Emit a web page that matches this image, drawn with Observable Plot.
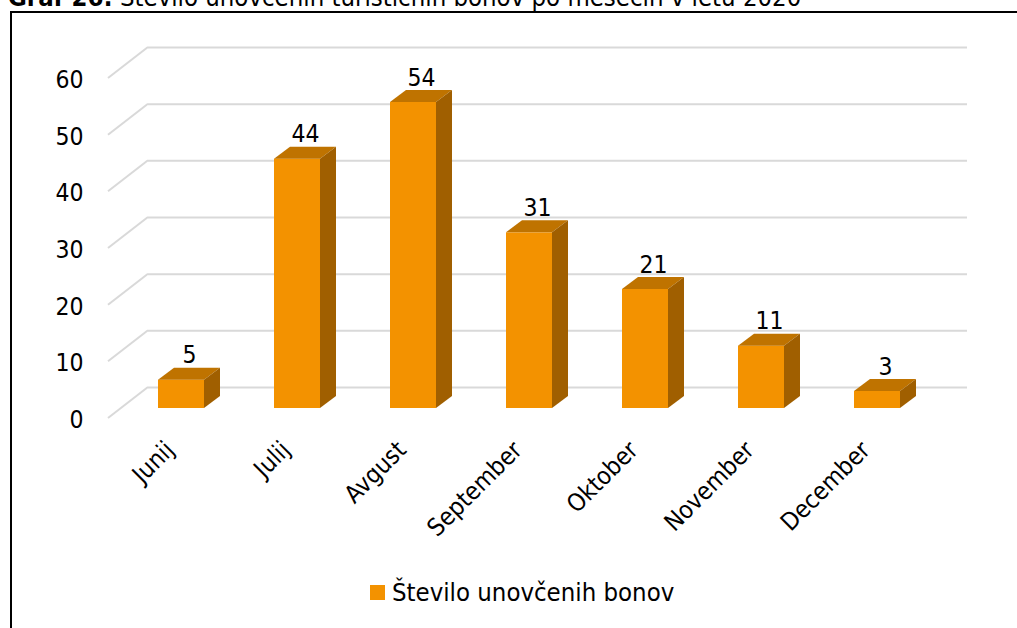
<!DOCTYPE html>
<html><head><meta charset="utf-8">
<script src="https://cdn.jsdelivr.net/npm/d3@7"></script>
<script src="https://cdn.jsdelivr.net/npm/@observablehq/plot@0.6"></script>
<style>
body{margin:0;background:#fff;}
#wrap{position:relative;width:1017px;height:628px;overflow:hidden;font-family:"DejaVu Sans Condensed","DejaVu Sans",sans-serif;font-stretch:condensed;color:#000;}
#title{position:absolute;left:8px;top:-15.5px;font-size:25.5px;line-height:1;white-space:nowrap;}
#box{position:absolute;left:10px;top:11px;width:1100px;height:700px;border:2px solid #000;}
#legend{position:absolute;left:370px;top:580px;font-size:25.5px;line-height:1;white-space:nowrap;display:flex;align-items:center;}
#legend .sw{display:inline-block;width:15px;height:15px;margin-right:7px;}
#chart{position:absolute;left:0;top:0;}
</style></head><body><div id="wrap">
<div id="box"></div>
<div id="title"></div>
<div id="chart"></div>
<div id="legend"></div>
</div>
<script>
const months = ["Junij","Julij","Avgust","September","Oktober","November","December"];
const counts = [5,44,54,31,21,11,3];
const yTicks = [0,10,20,30,40,50,60];
const seriesName = "Število unovčenih bonov";
const titleBold = "Graf 26:";
const titleRest = " Število unovčenih turističnih bonov po mesecih v letu 2020";

const data = months.map((m, i) => ({month: m, value: counts[i]}));

const FRONT = "#f39200", TOP = "#bf7300", SIDE = "#a05f00", GRID = "#d9d9d9";
const FONT = '"DejaVu Sans Condensed","DejaVu Sans",sans-serif';
const DEPTH_X = 16, DEPTH_Y = -12;      // bar extrusion
const WALL_X = 27, WALL_Y = -21;        // back wall offset from bar plane
const FRONT_Y = 10, FRONT_X = -13;      // front floor edge offset from bar plane

const chart = Plot.plot({
  width: 1017, height: 628,
  marginTop: 68, marginBottom: 220, marginLeft: 86, marginRight: 44,
  x: {domain: months, padding: 0.6, axis: null},
  y: {domain: [0, 60], axis: null},
  style: {fontFamily: FONT, fontSize: "24px", background: "transparent", overflow: "visible"},
  marks: [
    Plot.ruleY(yTicks, {stroke: GRID, strokeWidth: 2, insetLeft: 62, insetRight: 6, dy: WALL_Y}),
    Plot.barY(data, {x: "month", y: "value", fill: FRONT}),
    Plot.text(data, {x: "month", y: "value", text: d => String(d.value), dx: 8, dy: -17, fontSize: 24.5, fill: "#000", lineAnchor: "bottom"}),
    Plot.text(yTicks, {y: d => d, text: d => String(d), frameAnchor: "left", textAnchor: "end", dx: -3, dy: 11.5, fontSize: 24.5, fill: "#000"}),
    Plot.text(months, {x: d => d, text: d => d, frameAnchor: "bottom", rotate: -45, textAnchor: "end", dx: -6, dy: 43, fontSize: 24.5, fill: "#000"})
  ]
});
document.getElementById("chart").appendChild(chart);

// 3D faces and side-wall grid drawn from Plot's own scales
const xs = chart.scale("x"), ys = chart.scale("y");
const bw = xs.bandwidth;
const svg = d3.select(chart);
const g = svg.append("g");
const y0 = ys.apply(0);
const frameLeft = 86;
for (const d of data) {
  const xa = xs.apply(d.month), xb = xa + bw, yv = ys.apply(d.value);
  g.append("polygon").attr("fill", TOP)
    .attr("points", [[xa, yv], [xb, yv], [xb + DEPTH_X, yv + DEPTH_Y], [xa + DEPTH_X, yv + DEPTH_Y]].join(" "));
  g.append("polygon").attr("fill", SIDE)
    .attr("points", [[xb, yv], [xb, y0], [xb + DEPTH_X, y0 + DEPTH_Y], [xb + DEPTH_X, yv + DEPTH_Y]].join(" "));
}
const gl = svg.insert("g", ":first-child");
for (const t of yTicks) {
  const yt = ys.apply(t);
  gl.append("line").attr("stroke", GRID).attr("stroke-width", 2)
    .attr("x1", frameLeft + 62 + FRONT_X - WALL_X).attr("y1", yt + FRONT_Y)
    .attr("x2", frameLeft + 62).attr("y2", yt + WALL_Y);
}

// title and legend
const title = document.getElementById("title");
title.innerHTML = `<b>${titleBold}</b>${titleRest}`;
const legend = document.getElementById("legend");
legend.innerHTML = `<span class="sw" style="background:${FRONT}"></span><span>${seriesName}</span>`;
</script>
</body></html>
